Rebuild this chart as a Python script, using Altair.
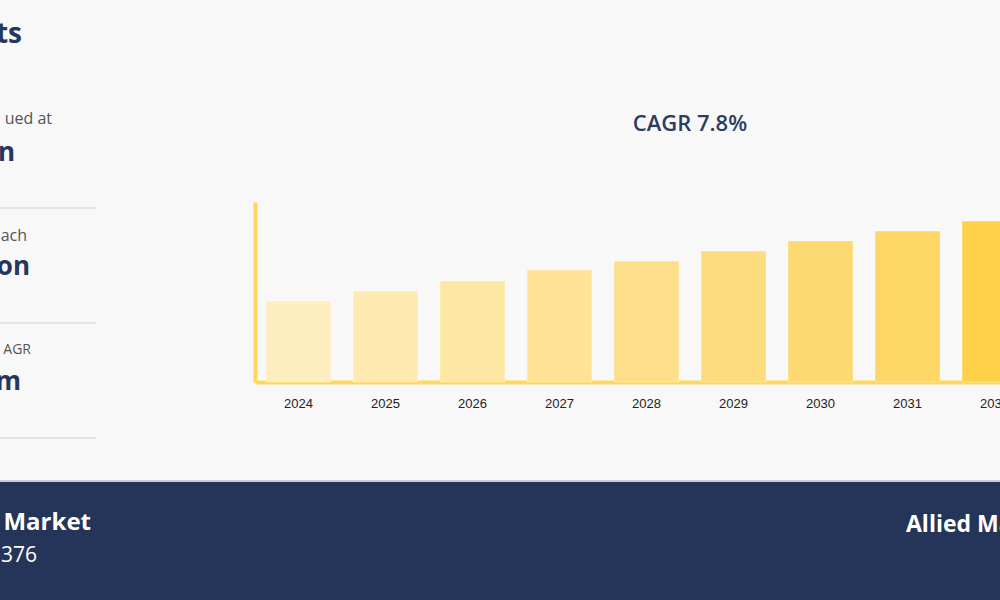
import altair as alt
import pandas as pd

years = ["2024", "2025", "2026", "2027", "2028", "2029", "2030", "2031", "2032"]
values = [81, 91, 101, 112, 121, 131, 141, 151, 161]
bar_colors = ["#feedbe", "#feeab0", "#fee6a3", "#fee397", "#fddf8b", "#fddc7e",
              "#fdd972", "#fdd665", "#fdd24a"]

df = pd.DataFrame({"year": years, "value": values})
one = pd.DataFrame({"k": [0]})

NAVY = "#243559"
TXT_NAVY = "#26365c"

bars = alt.Chart(df).mark_bar(stroke="#ffffff", strokeOpacity=0.35, strokeWidth=1, clip=False).encode(
    x=alt.X("year:N", sort=years,
            scale=alt.Scale(range=[0, 783], paddingInner=0.253, paddingOuter=0.126),
            axis=alt.Axis(title=None, labelAngle=0, ticks=False, tickSize=0, domain=True,
                          domainColor="#fdd85c", domainWidth=4, labelPadding=15,
                          labelFont="Liberation Sans", labelFontSize=13, labelColor="#222222")),
    y=alt.Y("value:Q", scale=alt.Scale(domain=[0, 180], nice=False),
            axis=alt.Axis(title=None, labels=False, ticks=False, grid=False, domain=True,
                          domainColor="#fdd85c", domainWidth=4)),
    color=alt.Color("year:N", sort=years, scale=alt.Scale(domain=years, range=bar_colors), legend=None),
)

def txt(text, x, y, size, color, weight="normal", align="left", font="Open Sans"):
    return alt.Chart(one).mark_text(
        text=text, align=align, baseline="middle", fontSize=size, fontWeight=weight,
        color=color, font=font, clip=False
    ).encode(x=alt.value(x), y=alt.value(y))

def hline(x1, x2, y, color, w):
    return alt.Chart(one).mark_rule(color=color, strokeWidth=w, clip=False).encode(
        x=alt.value(x1), x2=alt.value(x2), y=alt.value(y))

# origin of plot at page (255, 202)
OX, OY = 255, 202

banner = alt.Chart(one).mark_rect(color=NAVY, clip=False).encode(
    x=alt.value(-OX), x2=alt.value(1000 - OX), y=alt.value(482 - OY), y2=alt.value(600 - OY))

layers = [
    banner,
    hline(-OX, 1000 - OX, 481 - OY, "#9aa3b5", 1),
    bars,
    txt("CAGR 7.8%", 690 - OX, 124 - OY, 22, "#2c3c62", weight=600, align="center"),
    txt("ts", 22 - OX, 35 - OY, 28, TXT_NAVY, weight="bold", align="right"),
    txt("ued at", 52 - OX, 119 - OY, 16, "#555555", align="right"),
    txt("n", 15 - OX, 153 - OY, 26, TXT_NAVY, weight="bold", align="right"),
    hline(-OX, 96 - OX, 208 - OY, "#e4e4e4", 2),
    txt("ach", 27 - OX, 236 - OY, 16, "#555555", align="right"),
    txt("on", 30 - OX, 267 - OY, 26, TXT_NAVY, weight="bold", align="right"),
    hline(-OX, 96 - OX, 323 - OY, "#e4e4e4", 2),
    txt("AGR", 31 - OX, 350 - OY, 14, "#555555", align="right"),
    txt("m", 21 - OX, 382 - OY, 26, TXT_NAVY, weight="bold", align="right"),
    hline(-OX, 96 - OX, 438 - OY, "#e4e4e4", 2),
    txt("Market", 91 - OX, 523 - OY, 24, "#ffffff", weight="bold", align="right"),
    txt("376", 37 - OX, 556 - OY, 21, "#ffffff", align="right"),
    txt("Allied Market Research", 906 - OX, 525 - OY, 23, "#ffffff", weight="bold", align="left"),
]

chart = alt.layer(*layers).properties(
    width=1000 - OX, height=180,
    autosize=alt.AutoSizeParams(type="none"),
    padding={"left": OX, "top": OY, "right": 0, "bottom": 600 - OY - 180},
    background="#f8f8f8",
).configure_view(stroke=None)

chart.save("out.html", embed_options={"renderer": "svg", "actions": False})
